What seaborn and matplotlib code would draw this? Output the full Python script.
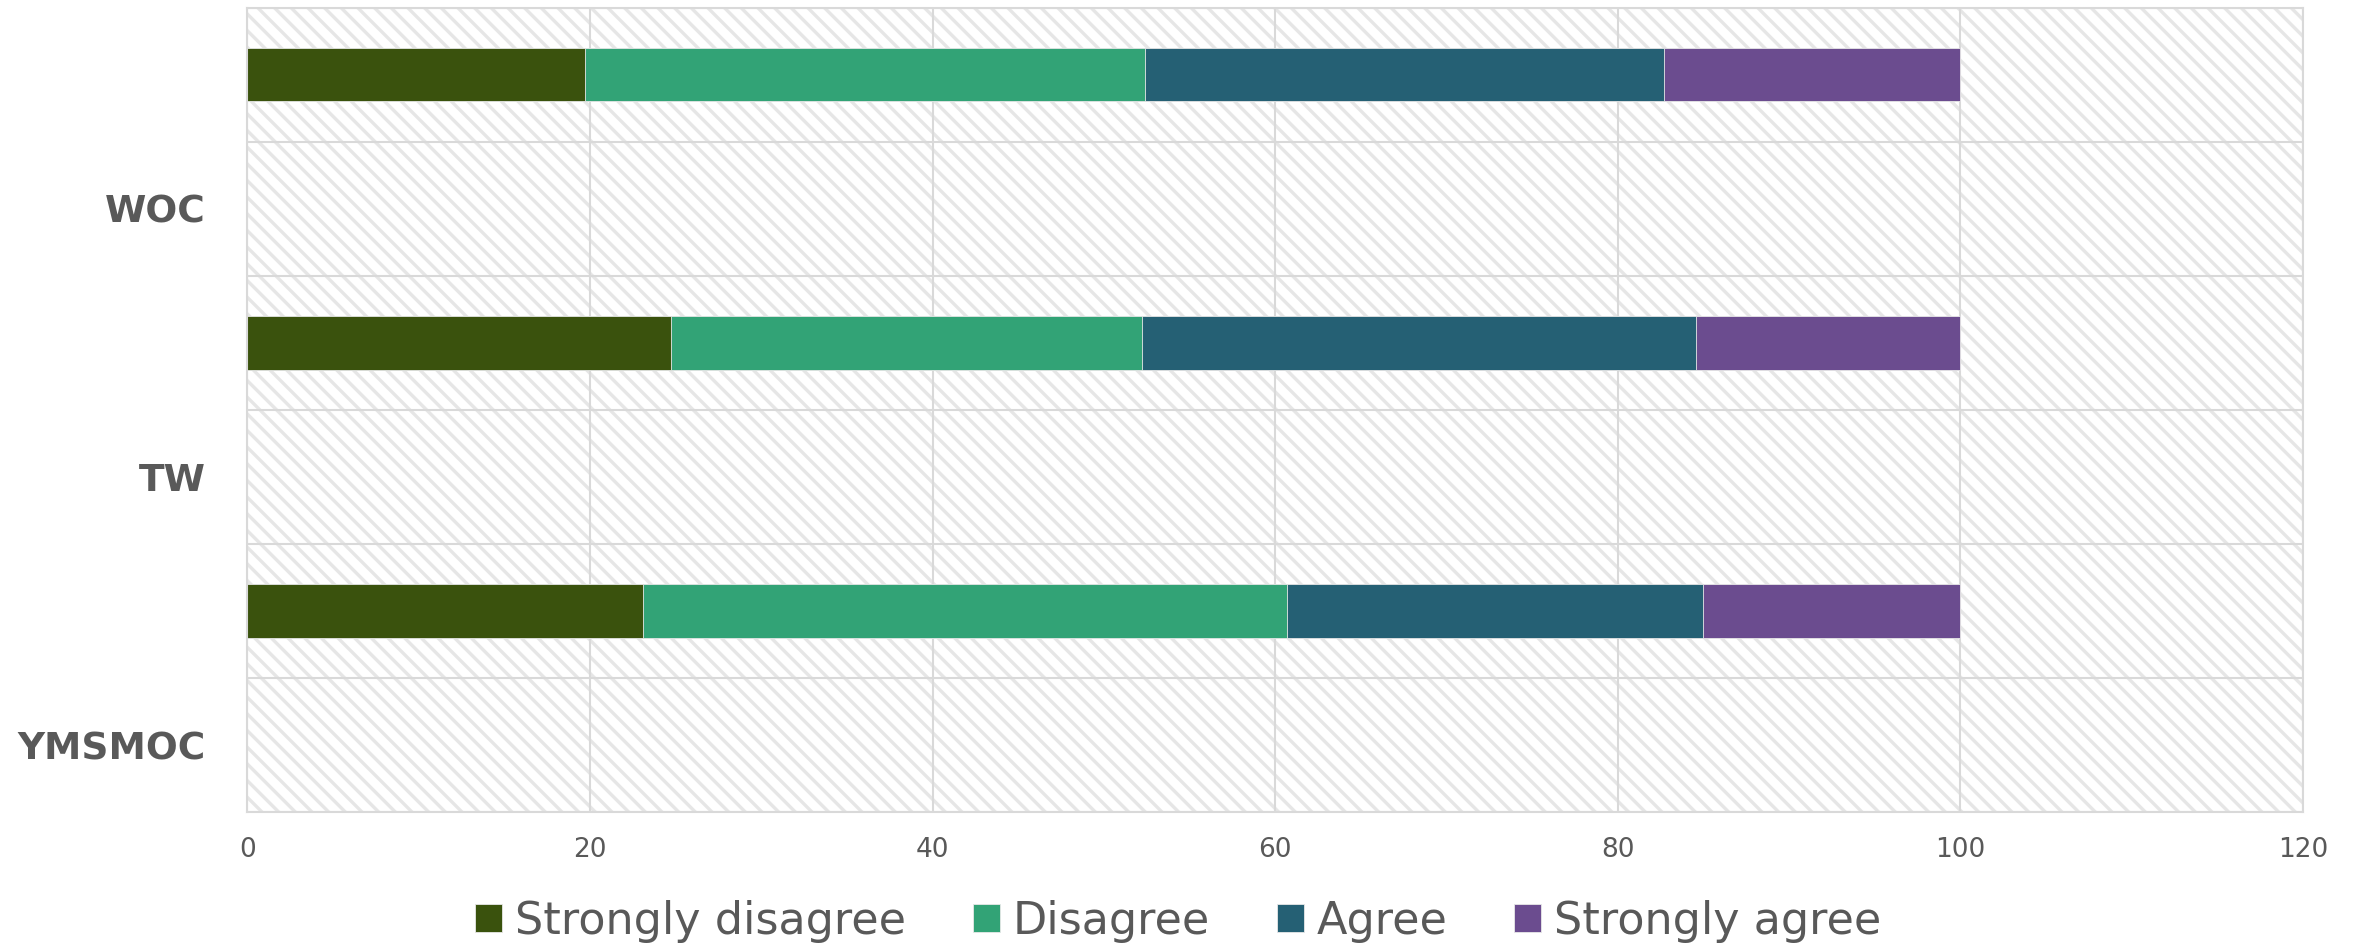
import numpy as np
import pandas as pd
import matplotlib
matplotlib.use("Agg")
import matplotlib.pyplot as plt
import seaborn as sns
from matplotlib.patches import Rectangle

# survey answers, percent of respondents per group
groups = ["WOC", "TW", "YMSMOC"]
answers = ["Strongly disagree", "Disagree", "Agree", "Strongly agree"]
strongly_disagree = [19.7, 24.7, 23.1]
disagree = [32.7, 27.5, 37.6]
agree = [30.3, 32.4, 24.3]
strongly_agree = [17.3, 15.4, 15.0]
colors = ["#3A520D", "#32A376", "#256074", "#6B4C8F"]
x_ticks = [0, 20, 40, 60, 80, 100, 120]

sns.set_theme(style="white")
plt.rcParams["font.family"] = ["DejaVu Sans"]
plt.rcParams["hatch.linewidth"] = 2.4

values = np.array([strongly_disagree, disagree, agree, strongly_agree])
cumulative = values.cumsum(axis=0)

# every group gets two slots: the bar sits in the upper one, the label in the lower one
bar_slots = [g + " bar" for g in groups]
order = []
for g in groups:
    order += [g + " bar", g]

fig, ax = plt.subplots(figsize=(23.57, 9.52), dpi=100)
fig.subplots_adjust(left=0.105, right=0.977, top=0.992, bottom=0.147)

# hatched plot background
ax.add_patch(Rectangle((0, 0), 1, 1, transform=ax.transAxes, facecolor="white",
                       edgecolor="#e6e6e6", hatch="\\\\", linewidth=0, zorder=0.2))

# stacked bars drawn as overlapping cumulative bars, longest first
handles = {}
for i in reversed(range(len(answers))):
    df = pd.DataFrame({"group": bar_slots, "value": cumulative[i]})
    sns.barplot(data=df, x="value", y="group", order=order, orient="h",
                color=colors[i], width=0.4, saturation=1, edgecolor="#e8e8e8",
                linewidth=0.6, ax=ax, zorder=2)
    handles[answers[i]] = ax.containers[-1]

ax.set_xlim(0, 120)
ax.set_ylim(len(order) - 0.5, -0.5)
ax.set_xticks(x_ticks)
ax.set_yticks(range(len(order)))
ax.set_yticklabels(["" if s.endswith(" bar") else s for s in order],
                   fontsize=27, fontweight="bold", color="#595959")
ax.set_yticks(np.arange(-0.5, len(order), 1.0), minor=True)
ax.tick_params(axis="x", labelsize=19, labelcolor="#595959", pad=18, length=0)
ax.tick_params(axis="y", which="both", length=0, pad=30)
ax.set_xlabel("")
ax.set_ylabel("")

ax.grid(True, axis="x", which="major", color="#d9d9d9", linewidth=1.5, zorder=0.5)
ax.grid(True, axis="y", which="minor", color="#d9d9d9", linewidth=1.5, zorder=0.5)
ax.grid(False, axis="y", which="major")
ax.set_axisbelow(True)
for side in ax.spines.values():
    side.set_color("#d9d9d9")
    side.set_linewidth(1.5)

fig.legend([handles[a] for a in answers], answers, loc="center",
           bbox_to_anchor=(0.5, 0.032), ncol=4, frameon=False, fontsize=32,
           handlelength=0.6, handleheight=0.6, handletextpad=0.3, columnspacing=1.5,
           labelcolor="#595959")

fig.savefig("out.png", dpi=100)
